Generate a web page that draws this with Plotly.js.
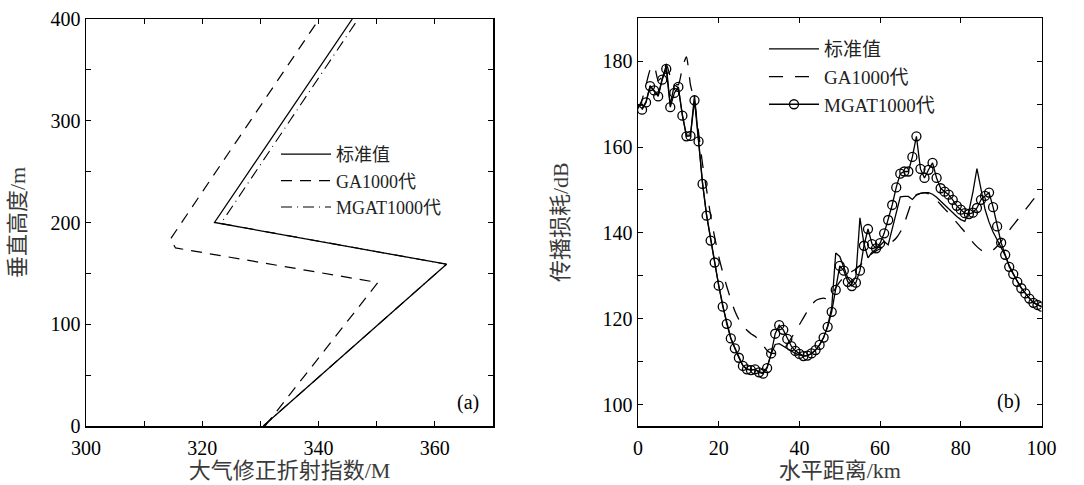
<!DOCTYPE html>
<html>
<head>
<meta charset="utf-8">
<script src="https://cdn.plot.ly/plotly-3.0.1.min.js"></script>
<style>
  html, body { margin: 0; padding: 0; background: #fff; }
  #chart { width: 1084px; height: 485px; }
</style>
</head>
<body>
<div id="chart"></div>
<script>
// ---------- Panel (a): modified refractivity profile ----------
const seriesNames = ['标准值', 'GA1000代', 'MGAT1000代'];

const stdM   = [330.5, 362.0, 322.1, 345.8];
const stdH   = [0, 159, 200, 400];
const gaM    = [330.8, 350.2, 315.4, 314.5, 340.1];
const gaH    = [0, 141, 175, 183.5, 400];
const mgatM  = [330.5, 362.0, 323.2, 346.8];
const mgatH  = [0, 159, 199, 400];

const aXTicks = [300, 310, 320, 330, 340, 350, 360, 370];
const aXText  = ['300', '', '320', '', '340', '', '360', ''];
const aYTicks = [0, 50, 100, 150, 200, 250, 300, 350, 400];
const aYText  = ['0', '', '100', '', '200', '', '300', '', '400'];

// ---------- Panel (b): propagation loss vs range ----------
const stdX = [0,1,2,3,4,5,6,7,8,9,10,11,12,13,14,15,16,17,18,19,20,21,22,23,24,25,26,27,28,29,30,31,32,33,34,35,36,37,38,39,40,41,42,43,44,45,46,47,48,49,50,51,52,53,54,55,56,57,58,59,60,61,62,63,64,65,66,67,68,69,70,71,72,73,74,75,76,77,78,79,80,81,82,83,84,85,86,87,88,89,90,91,92,93,94,95,96,97,98,99,100];
const stdLoss = [169.8,169.0,170.6,174.3,173.0,172.0,176.0,179.0,169.8,174.5,173.8,167.5,162.8,162.8,172.0,161.0,151.6,144.2,138.4,133.2,127.8,122.9,118.9,115.5,113.2,111.0,109.1,108.3,108.1,108.2,107.7,107.4,108.7,111.8,114.0,114.2,113.6,113.0,112.4,111.9,111.6,111.3,111.4,111.9,112.7,113.9,115.6,118.3,122.5,135.3,134.5,132.0,129.5,128.3,129.8,143.5,137.5,134.2,135.5,136.2,137.0,138.0,137.2,141.0,145.0,148.4,148.5,148.5,147.8,148.8,149.2,149.4,149.4,149.0,148.3,147.4,146.4,145.5,144.6,143.8,143.1,142.7,145.0,149.5,155.0,149.8,145.5,142.5,140.2,138.4,136.6,134.7,132.4,130.5,128.7,127.2,125.9,124.7,123.8,123.2,122.8];

const gaX = stdX;
const gaLoss = [169.0,171.0,174.5,178.0,179.0,175.5,176.5,179.3,176.5,174.8,174.5,178.5,181.0,174.5,170.5,163.5,156.0,150.0,144.0,139.0,134.5,130.8,127.5,124.5,121.8,119.8,118.3,117.3,116.5,115.9,115.0,113.8,112.6,112.0,111.9,112.1,112.8,114.0,115.5,117.0,118.6,120.2,121.8,123.2,124.2,124.6,124.8,124.6,125.6,127.2,128.6,129.6,130.4,131.0,131.6,132.4,133.4,134.4,135.2,135.8,136.3,136.8,137.3,137.9,138.8,140.2,142.2,145.0,147.6,148.9,149.2,149.3,149.1,148.5,147.6,146.6,145.6,144.6,143.5,142.4,141.3,140.2,139.0,137.8,136.8,136.0,135.6,135.6,136.0,136.9,138.0,139.3,140.6,141.8,143.0,144.2,145.4,146.6,147.8,148.8,148.2];

const mgatX = [1,2,3,4,5,6,7,8,9,10,11,12,13,14,15,16,17,18,19,20,21,22,23,24,25,26,27,28,29,30,31,32,33,34,35,36,37,38,39,40,41,42,43,44,45,46,47,48,49,50,51,52,53,54,55,56,57,58,59,60,61,62,63,64,65,66,67,68,69,70,71,72,73,74,75,76,77,78,79,80,81,82,83,84,85,86,87,88,89,90,91,92,93,94,95,96,97,98,99,100];
const mgatLoss = [168.7,170.4,174.2,173.2,171.8,175.7,178.2,169.3,172.6,174.0,167.3,162.5,162.6,170.9,161.3,151.4,144.0,138.2,133.1,127.7,122.8,118.8,115.4,113.1,110.9,109.0,108.2,108.0,108.2,107.5,107.2,108.5,111.9,116.5,118.5,117.4,115.3,113.6,112.5,111.8,111.3,111.4,111.9,112.7,113.9,115.6,118.1,121.6,126.7,132.3,131.2,128.6,127.6,128.4,131.2,137.0,140.9,137.4,136.4,137.6,139.9,143.0,146.5,150.6,153.8,154.3,154.3,157.7,162.5,154.9,152.8,154.7,156.3,152.8,150.4,149.6,148.9,147.7,146.3,145.4,144.6,144.4,144.7,145.8,147.7,148.6,149.4,146.0,141.5,137.7,134.9,132.1,130.4,128.6,127.1,125.9,124.7,123.7,123.2,122.8];

const bXTicks = [0, 20, 40, 60, 80, 100];
const bYTicks = [100, 110, 120, 130, 140, 150, 160, 170, 180, 190];
const bYText  = ['100', '', '120', '', '140', '', '160', '', '180', ''];

// ---------- styling ----------
const W = 1084, H = 485;
const serif = '"Liberation Serif", "Noto Sans CJK SC", serif';
const tickFont = { family: serif, size: 20, color: '#000' };
const titleFont = { family: serif, size: 22, color: '#3a3a3a' };

function px(xp) { return xp / W; }
function py(yp) { return (H - yp) / H; }

const baseAxis = {
  ticks: 'inside', ticklen: 5, tickwidth: 1, tickcolor: '#000',
  showline: true, linewidth: 1.5, linecolor: '#000', mirror: 'ticks',
  showgrid: false, zeroline: false, tickfont: tickFont, automargin: false,
  fixedrange: true
};

const traces = [
  { x: stdM, y: stdH, xaxis: 'x', yaxis: 'y', mode: 'lines', name: seriesNames[0],
    line: { color: '#000', width: 1.3 }, legend: 'legend' },
  { x: gaM, y: gaH, xaxis: 'x', yaxis: 'y', mode: 'lines', name: seriesNames[1],
    line: { color: '#000', width: 1.2, dash: '11px,8px' }, legend: 'legend' },
  { x: mgatM, y: mgatH, xaxis: 'x', yaxis: 'y', mode: 'lines', name: seriesNames[2],
    line: { color: '#000', width: 1.1, dash: '11px,5px,1px,5px' }, legend: 'legend' },

  { x: stdX, y: stdLoss, xaxis: 'x2', yaxis: 'y2', mode: 'lines', name: seriesNames[0],
    line: { color: '#000', width: 1.3 }, legend: 'legend2' },
  { x: gaX, y: gaLoss, xaxis: 'x2', yaxis: 'y2', mode: 'lines', name: seriesNames[1],
    line: { color: '#000', width: 1.3, dash: '14px,12px', shape: 'spline', smoothing: 0.6 }, legend: 'legend2' },
  { x: mgatX, y: mgatLoss, xaxis: 'x2', yaxis: 'y2', mode: 'lines+markers', name: seriesNames[2],
    line: { color: '#000', width: 1.3 },
    marker: { symbol: 'circle-open', size: 9, color: '#000', line: { width: 1.3, color: '#000' } },
    legend: 'legend2' }
];

const legendBase = {
  bgcolor: 'rgba(0,0,0,0)', borderwidth: 0, tracegroupgap: 0,
  xanchor: 'left', yanchor: 'top', xref: 'paper', yref: 'paper', itemwidth: 50
};

const layout = {
  width: W, height: H,
  margin: { l: 0, r: 0, t: 0, b: 0 },
  paper_bgcolor: '#fff', plot_bgcolor: '#fff',
  showlegend: true,
  font: { family: serif, color: '#000' },
  xaxis: Object.assign({}, baseAxis, {
    domain: [px(86), px(493)], range: [300, 370], anchor: 'y',
    tickmode: 'array', tickvals: aXTicks, ticktext: aXText, ticklabelstandoff: 3,
    title: { text: '大气修正折射指数/M', font: titleFont, standoff: 0 }
  }),
  yaxis: Object.assign({}, baseAxis, {
    domain: [py(426), py(19)], range: [0, 400], anchor: 'x',
    tickmode: 'array', tickvals: aYTicks, ticktext: aYText,
    title: { text: '垂直高度/m', font: titleFont, standoff: 19 }
  }),
  xaxis2: Object.assign({}, baseAxis, {
    domain: [px(638), px(1041.5)], range: [0, 100], anchor: 'y2',
    tickmode: 'array', tickvals: bXTicks, ticklabelstandoff: 3,
    title: { text: '水平距离/km', font: titleFont, standoff: 0 }
  }),
  yaxis2: Object.assign({}, baseAxis, {
    domain: [py(426), py(18.3)], range: [95, 190], anchor: 'x2',
    tickmode: 'array', tickvals: bYTicks, ticktext: bYText,
    title: { text: '传播损耗/dB', font: titleFont, standoff: 28 }
  }),
  legend: Object.assign({}, legendBase, {
    x: px(276), y: py(136), font: { family: serif, size: 18, color: '#222' } }),
  legend2: Object.assign({}, legendBase, {
    x: px(764), y: py(30), font: { family: serif, size: 19, color: '#222' } }),
  annotations: [
    { text: '(a)', xref: 'x', yref: 'y', x: 365.7, y: 23.5, showarrow: false,
      font: { family: serif, size: 20, color: '#000' } },
    { text: '(b)', xref: 'x2', yref: 'y2', x: 91.7, y: 100.6, showarrow: false,
      font: { family: serif, size: 20, color: '#000' } }
  ]
};

Plotly.newPlot('chart', traces, layout, { staticPlot: true, displayModeBar: false });
</script>
</body>
</html>
